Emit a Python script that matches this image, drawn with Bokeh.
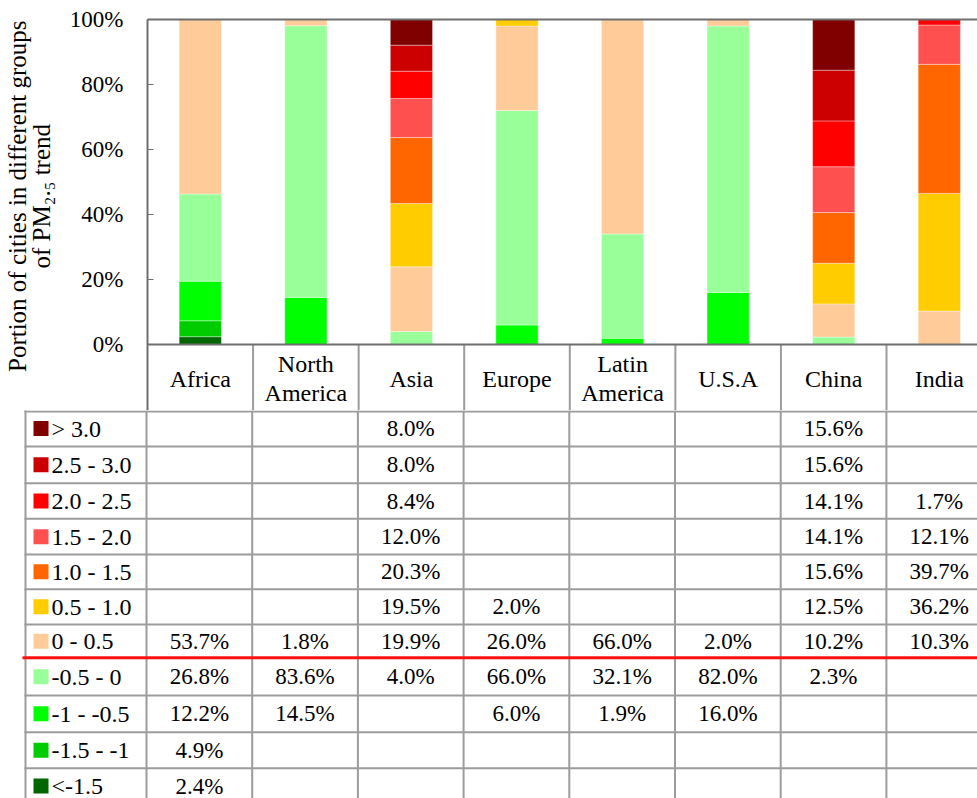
from bokeh.plotting import figure
from bokeh.models import Range1d, FixedTicker, LinearAxis
from bokeh.core.properties import value
from bokeh.embed import file_html
from bokeh.resources import INLINE

# ---------------- data ----------------
categories = ["Africa", "North America", "Asia", "Europe", "Latin America", "U.S.A", "China", "India"]
header_labels = ["Africa", "North\nAmerica", "Asia", "Europe", "Latin\nAmerica", "U.S.A", "China", "India"]

# trend groups, listed top (table order) to bottom
group_labels = ["> 3.0", "2.5 - 3.0", "2.0 - 2.5", "1.5 - 2.0", "1.0 - 1.5", "0.5 - 1.0",
                "0 - 0.5", "-0.5 - 0", "-1 - -0.5", "-1.5 - -1", "<-1.5"]
group_colors = ["#800000", "#CC0000", "#FF0000", "#FF5050", "#FF6600", "#FFCC00",
                "#FFCC99", "#99FF99", "#00FF00", "#00CC00", "#006600"]

gt_3_0     = [None, None, 8.0,  None, None, None, 15.6, None]
g_2_5_3_0  = [None, None, 8.0,  None, None, None, 15.6, None]
g_2_0_2_5  = [None, None, 8.4,  None, None, None, 14.1, 1.7]
g_1_5_2_0  = [None, None, 12.0, None, None, None, 14.1, 12.1]
g_1_0_1_5  = [None, None, 20.3, None, None, None, 15.6, 39.7]
g_0_5_1_0  = [None, None, 19.5, 2.0,  None, None, 12.5, 36.2]
g_0_0_5    = [53.7, 1.8,  19.9, 26.0, 66.0, 2.0,  10.2, 10.3]
g_m0_5_0   = [26.8, 83.6, 4.0,  66.0, 32.1, 82.0, 2.3,  None]
g_m1_m0_5  = [12.2, 14.5, None, 6.0,  1.9,  16.0, None, None]
g_m1_5_m1  = [4.9,  None, None, None, None, None, None, None]
lt_m1_5    = [2.4,  None, None, None, None, None, None, None]

series = [gt_3_0, g_2_5_3_0, g_2_0_2_5, g_1_5_2_0, g_1_0_1_5, g_0_5_1_0,
          g_0_0_5, g_m0_5_0, g_m1_m0_5, g_m1_5_m1, lt_m1_5]

y_ticks = [0, 20, 40, 60, 80, 100]
y_tick_labels = ["0%", "20%", "40%", "60%", "80%", "100%"]
y_title_lines = ["Portion of cities in different groups", "of PM\u2082.\u2085 trend"]

# ---------------- layout constants ----------------
FONT = "Liberation Serif"
FS_NUM = "23px"
FS_TXT = "24px"
W = 977
LEFT = 146            # chart frame left (px)
CW = 105.7            # table column width (px)
TOP = 19              # chart frame top (px)
BASE = 344            # 0% line (px)
HEAD_BOT = 410        # bottom of header row (px)
PAGE_H = 798
PX_PER_UNIT = (BASE - TOP) / 100.0
XMAX = (W - LEFT) / CW
AXIS_COLOR = "#6e6e6e"
GRID_COLOR = "#9c9c9c"
TITLE_PAD = "\u00a0" * 6   # nudges the rotated title up toward the 0-100% span centre

n = len(categories)

# ---------------- chart (with header row) ----------------
y_lo = -(HEAD_BOT - BASE) / PX_PER_UNIT
p = figure(width=W, height=HEAD_BOT, x_range=Range1d(0, XMAX), y_range=Range1d(y_lo, 100),
           x_axis_type=None, output_backend="svg", toolbar_location=None,
           min_border_left=LEFT, min_border_right=0, min_border_top=TOP, min_border_bottom=0,
           outline_line_color=None, background_fill_color="white", border_fill_color="white")
p.grid.visible = False

ya = p.yaxis[0]
ya.ticker = FixedTicker(ticks=y_ticks)
ya.major_label_overrides = {t: l for t, l in zip(y_ticks, y_tick_labels)}
ya.major_label_text_font = FONT
ya.major_label_text_font_size = FS_NUM
ya.major_label_text_color = "black"
ya.major_label_standoff = 24
ya.major_tick_in = 6
ya.major_tick_out = 0
ya.minor_tick_line_color = None
ya.major_tick_line_color = AXIS_COLOR
ya.axis_line_color = AXIS_COLOR
ya.axis_line_width = 2
ya.axis_label = "\n".join(TITLE_PAD + s for s in y_title_lines)
ya.axis_label_text_font = FONT
ya.axis_label_text_font_size = "25px"
ya.axis_label_text_font_style = "normal"
ya.axis_label_text_color = "black"
ya.axis_label_text_line_height = 0.9
ya.axis_label_standoff = 12

top_axis = LinearAxis(ticker=FixedTicker(ticks=[]), axis_line_color=AXIS_COLOR, axis_line_width=2,
                      major_tick_line_color=None, minor_tick_line_color=None,
                      major_label_text_font_size="0px")
p.add_layout(top_axis, "above")

bottoms = [0.0] * n
for label, color, vals in reversed(list(zip(group_labels, group_colors, series))):
    xs, bs, ts = [], [], []
    for i, v in enumerate(vals):
        if v is None:
            continue
        xs.append(i + 0.5)
        bs.append(bottoms[i])
        ts.append(bottoms[i] + v)
        bottoms[i] += v
    p.vbar(x=xs, bottom=bs, top=ts, width=0.4, fill_color=color,
           line_color="white", line_width=0.6, line_alpha=0.6)

# header row (inside the chart figure, below 0%)
def cy(a):
    return -(a - BASE) / PX_PER_UNIT

p.segment(x0=list(range(1, n + 1)), y0=[0] * n, x1=list(range(1, n + 1)), y1=[y_lo] * n,
          line_color=GRID_COLOR, line_width=2)
p.segment(x0=[0], y0=[0], x1=[XMAX], y1=[0], line_color=AXIS_COLOR, line_width=2)
p.text(x=[i + 0.5 for i in range(n)], y=[cy(378)] * n, text=header_labels,
       text_font=value(FONT), text_font_size=FS_TXT, text_align="center", text_baseline="middle",
       text_color="black", text_line_height=1.15)

# ---------------- table ----------------
TABLE_H = PAGE_H - HEAD_BOT

def ty(a):
    return -(a - HEAD_BOT)

ROW_EDGES = [410, 446, 482.7, 518.3, 554, 588.7, 624, 657.3, 695, 731.7, 767.7, 803.5]
RED_EDGE = 7
LAB_LEFT = -(LEFT - 25) / CW
RED_LEFT = -(LEFT - 22) / CW

t = figure(width=W, height=TABLE_H, x_range=Range1d(-LEFT / CW, XMAX), y_range=Range1d(-TABLE_H, 0),
           x_axis_type=None, y_axis_type=None, output_backend="svg", toolbar_location=None,
           min_border=0, min_border_left=0, min_border_right=0, min_border_top=0, min_border_bottom=0,
           outline_line_color=None, background_fill_color="white", border_fill_color="white")
t.grid.visible = False

# vertical grid lines
t.segment(x0=list(range(n + 1)), y0=[0] * (n + 1), x1=list(range(n + 1)), y1=[ty(810)] * (n + 1),
          line_color=GRID_COLOR, line_width=2)
t.segment(x0=[LAB_LEFT], y0=[ty(409)], x1=[LAB_LEFT], y1=[ty(810)], line_color=GRID_COLOR, line_width=2)

# horizontal grid lines
h_edges = [e for k, e in enumerate(ROW_EDGES) if k != RED_EDGE]
h_edges[0] = h_edges[0] + 1
t.segment(x0=[LAB_LEFT - 0.01] * len(h_edges), y0=[ty(e) for e in h_edges],
          x1=[XMAX] * len(h_edges), y1=[ty(e) for e in h_edges],
          line_color=GRID_COLOR, line_width=2)
t.segment(x0=[RED_LEFT], y0=[ty(ROW_EDGES[RED_EDGE])], x1=[XMAX], y1=[ty(ROW_EDGES[RED_EDGE])],
          line_color="#FF1010", line_width=3)

# row labels with colour keys
centers = [(ROW_EDGES[k] + ROW_EDGES[k + 1]) / 2 for k in range(len(group_labels))]
t.rect(x=[-(LEFT - 40.5) / CW] * len(group_labels), y=[ty(c) for c in centers], width=15, height=15,
       width_units="screen", height_units="screen", fill_color=group_colors, line_color=None)
t.text(x=[-(LEFT - 51) / CW] * len(group_labels), y=[ty(c) for c in centers], text=group_labels,
       text_font=value(FONT), text_font_size=FS_TXT, text_align="left", text_baseline="middle",
       text_color="black")

# values
vx, vy, vt = [], [], []
for r, vals in enumerate(series):
    for i, v in enumerate(vals):
        if v is None:
            continue
        vx.append(i + 0.5)
        vy.append(ty(centers[r]))
        vt.append(f"{v:.1f}%")
t.text(x=vx, y=vy, text=vt, text_font=value(FONT), text_font_size=FS_NUM, text_align="center",
       text_baseline="middle", text_color="black")

open("out.html", "w").write(file_html([p, t], INLINE))
